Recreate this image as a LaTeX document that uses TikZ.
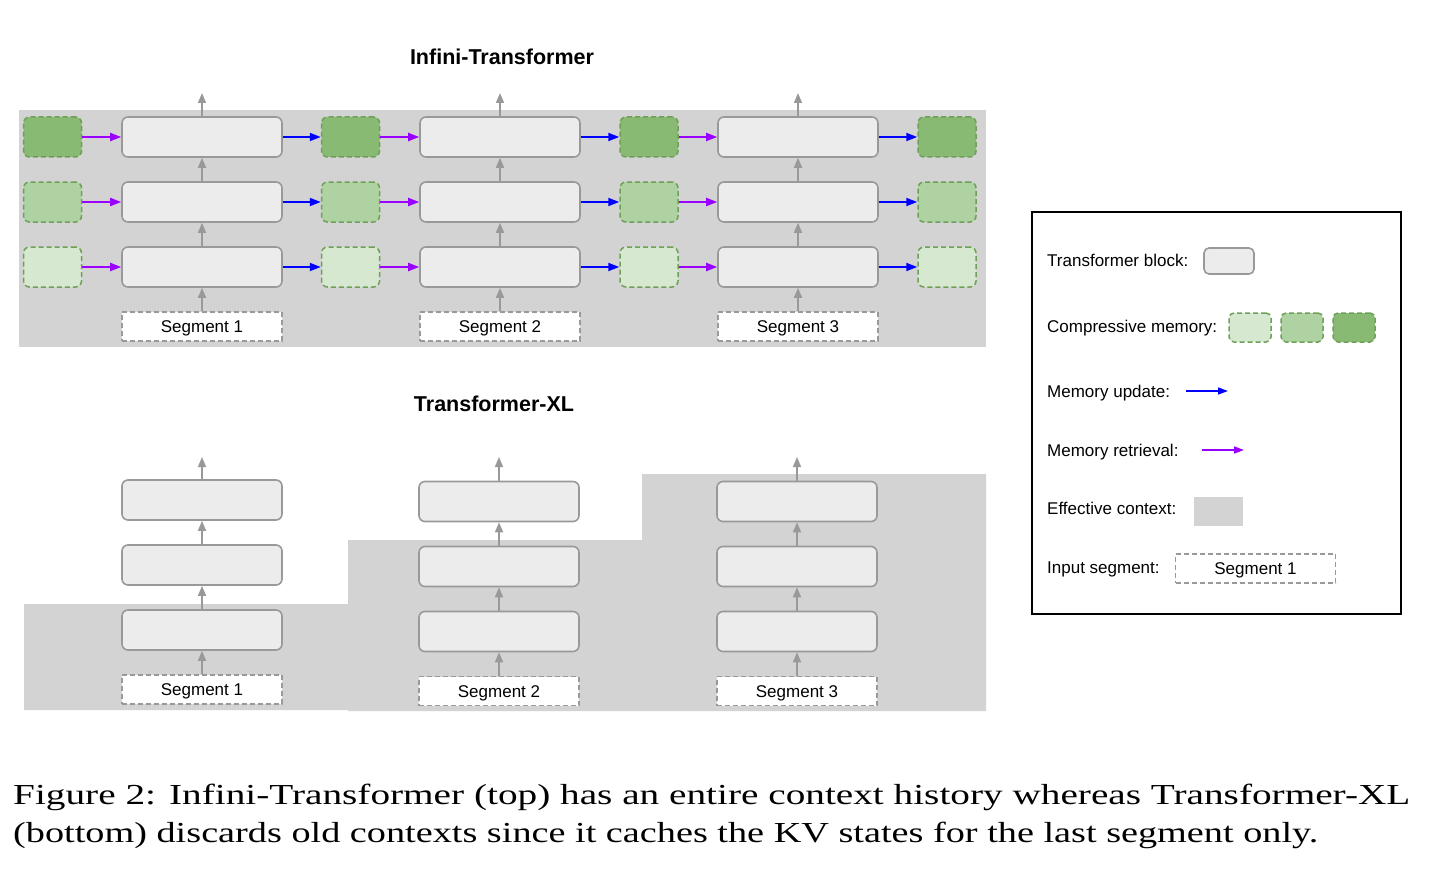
\documentclass[tikz,border=0pt]{standalone}
\usepackage{fontspec}
\usepackage{graphicx}
\setmainfont{Liberation Sans}
\newfontfamily\capserif{Liberation Serif}
\usetikzlibrary{arrows.meta}
\definecolor{ctx}{HTML}{D3D3D3}
\definecolor{blk}{HTML}{ECECEC}
\definecolor{blkline}{HTML}{999999}
\definecolor{memA}{HTML}{D6E8D0}
\definecolor{memB}{HTML}{AED2A1}
\definecolor{memC}{HTML}{88BA73}
\definecolor{memline}{HTML}{6FA058}
\definecolor{upd}{HTML}{0000FF}
\definecolor{ret}{HTML}{9900FF}
\newcommand{\capfont}{\capserif\fontsize{29}{38}\selectfont}
\tikzset{
  blockbox/.style={rectangle, rounded corners=6pt, minimum width=160pt, minimum height=40pt, fill=blk, draw=blkline, line width=1.6pt, inner sep=0pt},
  membox/.style={rectangle, rounded corners=6pt, minimum width=58pt, minimum height=40pt, draw=memline, line width=1.5pt, dash pattern=on 5pt off 3pt, inner sep=0pt},
  segbox/.style={rectangle, minimum width=160pt, minimum height=29pt, fill=white, draw=blkline, line width=1.4pt, dash pattern=on 5pt off 3pt, font=\fontsize{17}{20}\selectfont, inner sep=0pt, text height=12pt, text depth=0pt},
  uparr/.style={draw=blkline, line width=1.6pt, -{Triangle[length=10pt,width=8pt]}},
  updarr/.style={draw=upd, line width=1.8pt, -{Triangle[length=11pt,width=8pt]}},
  retarr/.style={draw=ret, line width=1.8pt, -{Triangle[length=11pt,width=8pt]}},
  titletext/.style={font=\bfseries\fontsize{21.5}{24}\selectfont, inner sep=0pt},
  legtext/.style={font=\fontsize{17}{20}\selectfont, anchor=west, inner sep=0pt, text height=12pt, text depth=0pt},
  captext/.style={font=\capfont, anchor=base west, inner sep=0pt}
}
\begin{document}
\begin{tikzpicture}[x=1pt,y=-1pt]
\useasboundingbox (0,0) rectangle (1438,888);
% ---------- Infini-Transformer ----------
\fill[ctx] (19,110) rectangle (986,347);
\node[titletext] (title1) at (502,57) {Infini-Transformer};
\foreach \c/\x in {1/202,2/500,3/798} {
  \foreach \r/\y in {1/137,2/202,3/267} {
    \node[blockbox] (t\c\r) at (\x,\y) {};
  }
  \node[segbox] (ts\c) at (\x,326.5) {Segment \c};
  \coordinate (tout\c) at (\x,93);
}
\foreach \k/\x in {0/52.5,1/350.5,2/649,3/947} {
  \node[membox, fill=memC] (m\k1) at (\x,137) {};
  \node[membox, fill=memB] (m\k2) at (\x,202) {};
  \node[membox, fill=memA] (m\k3) at (\x,267) {};
}
\foreach \c in {1,2,3} {
  \draw[uparr] (ts\c) -- (t\c3);
  \draw[uparr] (t\c3) -- (t\c2);
  \draw[uparr] (t\c2) -- (t\c1);
  \draw[uparr] (t\c1) -- (tout\c);
  \pgfmathtruncatemacro\p{\c-1}
  \foreach \r in {1,2,3} {
    \draw[retarr] (m\p\r.east) -- (t\c\r.west);
    \draw[updarr] (t\c\r.east) -- (m\c\r.west);
  }
}
% ---------- Transformer-XL ----------
\fill[ctx] (24,604) -- (348,604) -- (348,540) -- (642,540) -- (642,474) -- (986,474) -- (986,711) -- (348,711) -- (348,710) -- (24,710) -- cycle;
\node[titletext] (title2) at (494,404) {Transformer-XL};
\foreach \c/\x/\yo in {1/202/0,2/499/1.5,3/797/1.5} {
  \node[blockbox] (x\c1) at (\x,500+\yo) {};
  \node[blockbox] (x\c2) at (\x,565+\yo) {};
  \node[blockbox] (x\c3) at (\x,630+\yo) {};
  \node[segbox] (xs\c) at (\x,689.5+\yo) {Segment \c};
  \coordinate (xout\c) at (\x,457);
  \draw[uparr] (xs\c) -- (x\c3);
  \draw[uparr] (x\c3) -- (x\c2);
  \draw[uparr] (x\c2) -- (x\c1);
  \draw[uparr] (x\c1) -- (xout\c);
}
% ---------- Legend ----------
\draw[black, line width=1.5pt] (1032,212) rectangle (1401,614);
\node[legtext] (l1) at (1047,260) {Transformer block:};
\node[blockbox, minimum width=50pt, minimum height=26pt, rounded corners=5pt] (lb) at (1229,261) {};
\node[legtext] (l2) at (1047,326) {Compressive memory:};
\node[membox, fill=memA, minimum width=42pt, minimum height=29pt, rounded corners=5pt] (lm1) at (1250,327.5) {};
\node[membox, fill=memB, minimum width=42pt, minimum height=29pt, rounded corners=5pt] (lm2) at (1302,327.5) {};
\node[membox, fill=memC, minimum width=42pt, minimum height=29pt, rounded corners=5pt] (lm3) at (1354,327.5) {};
\node[legtext] (l3) at (1047,391) {Memory update:};
\coordinate (lu1) at (1186,391);
\coordinate (lu2) at (1228,391);
\draw[updarr, line width=1.6pt, -{Triangle[length=10pt,width=7pt]}] (lu1) -- (lu2);
\node[legtext] (l4) at (1047,450) {Memory retrieval:};
\coordinate (lr1) at (1202,450);
\coordinate (lr2) at (1244,450);
\draw[retarr, line width=1.6pt, -{Triangle[length=10pt,width=7pt]}] (lr1) -- (lr2);
\node[legtext] (l5) at (1047,508) {Effective context:};
\node[fill=ctx, minimum width=49pt, minimum height=29pt, inner sep=0pt] (lc) at (1218.5,511.5) {};
\node[legtext] (l6) at (1047,567) {Input segment:};
\node[segbox] (ls) at (1255.5,568.5) {Segment 1};
% ---------- Caption ----------
\node[captext] (cap1) at (13,804) {\resizebox{1397pt}{\height}{Figure 2: Infini-Transformer (top) has an entire context history whereas Transformer-XL}};
\node[captext] (cap2) at (13,842) {\resizebox{1305pt}{\height}{(bottom) discards old contexts since it caches the KV states for the last segment only.}};
\end{tikzpicture}
\end{document}
